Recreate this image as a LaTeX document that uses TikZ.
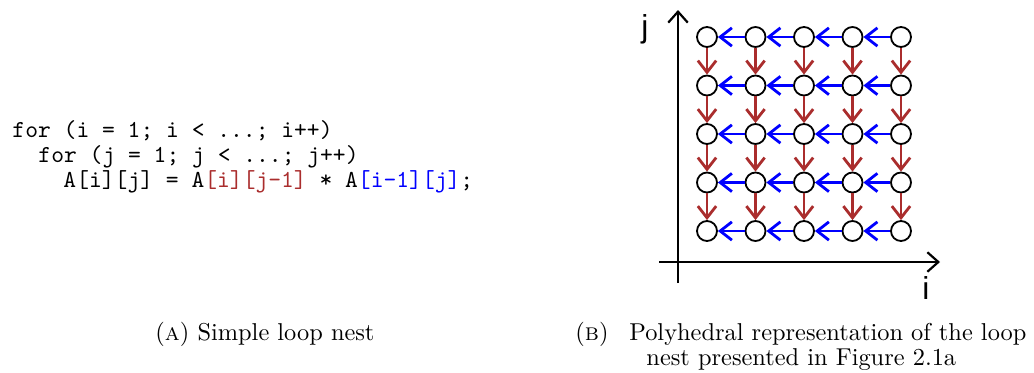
\documentclass[tikz,border=0pt]{standalone}
\usepackage{fontspec}
\newfontfamily\axisfont{Liberation Sans}
\usepackage{xcolor}
\usetikzlibrary{arrows.meta,positioning}
\definecolor{depred}{RGB}{170,45,45}
\definecolor{depblue}{RGB}{0,0,255}

\begin{document}
\begin{tikzpicture}[
    x=0.41pt, y=-0.41pt,
    node distance=1.4cm,
    code/.style={anchor=base west, inner sep=0pt, font=\ttfamily},
    caption/.style={anchor=base west, inner sep=0pt},
    point/.style={circle, draw=black, line width=0.75pt, fill=white, minimum size=20*0.41pt, inner sep=0pt},
    axis/.style={line width=0.9pt, -{Straight Barb[length=4.5pt,width=8pt]}},
    axislabel/.style={inner sep=0pt, font=\axisfont\fontsize{13}{15}\selectfont},
    idep/.style={depblue, line width=1.15pt, -{Straight Barb[length=4.8pt,width=7.5pt]}},
    jdep/.style={depred, line width=1.15pt, -{Straight Barb[length=4.8pt,width=7.5pt]}}
]
    \useasboundingbox (0,0) rectangle (1034,373);

    \node (code1) [code] at (12,137) {for (i = 1; i < ...; i++)};
    \node (code2) [code] at (38,162) {for (j = 1; j < ...; j++)};
    \node (code3) [code] at (63,187) {A[i][j] = A\textcolor{depred}{[i][j-1]} * A\textcolor{depblue}{[i-1][j]};};

    \coordinate (jtop) at (678,10);
    \coordinate (jbot) at (678,283);
    \coordinate (ileft) at (659,262);
    \coordinate (iright) at (940,262);
    \draw [axis] (jbot) -- (jtop);
    \draw [axis] (ileft) -- (iright);
    \node (jlab) [axislabel, anchor=base] at (645,37) {j};
    \node (ilab) [axislabel, anchor=base] at (926,299) {i};

    \foreach \i in {1,...,5}
        \foreach \j in {1,...,5}
            \node (p\i\j) [point] at ({707+(\i-1)*48.5},{231-(\j-1)*48.5}) {};

    \foreach \i/\k in {2/1,3/2,4/3,5/4}
        \foreach \j in {1,...,5}
            \draw [idep] (p\i\j) -- (p\k\j);
    \foreach \i in {1,...,5}
        \foreach \j/\k in {2/1,3/2,4/3,5/4}
            \draw [jdep] (p\i\j) -- (p\i\k);

    \node (capA) [caption] at (155,340) {(\textsc{a}) Simple loop nest};
    \node (capB1) [caption] at (575,340) {(\textsc{b})\hspace{8.5pt}Polyhedral representation of the loop};
    \node (capB2) [caption] at (646,365) {nest presented in Figure 2.1a};
\end{tikzpicture}
\end{document}
